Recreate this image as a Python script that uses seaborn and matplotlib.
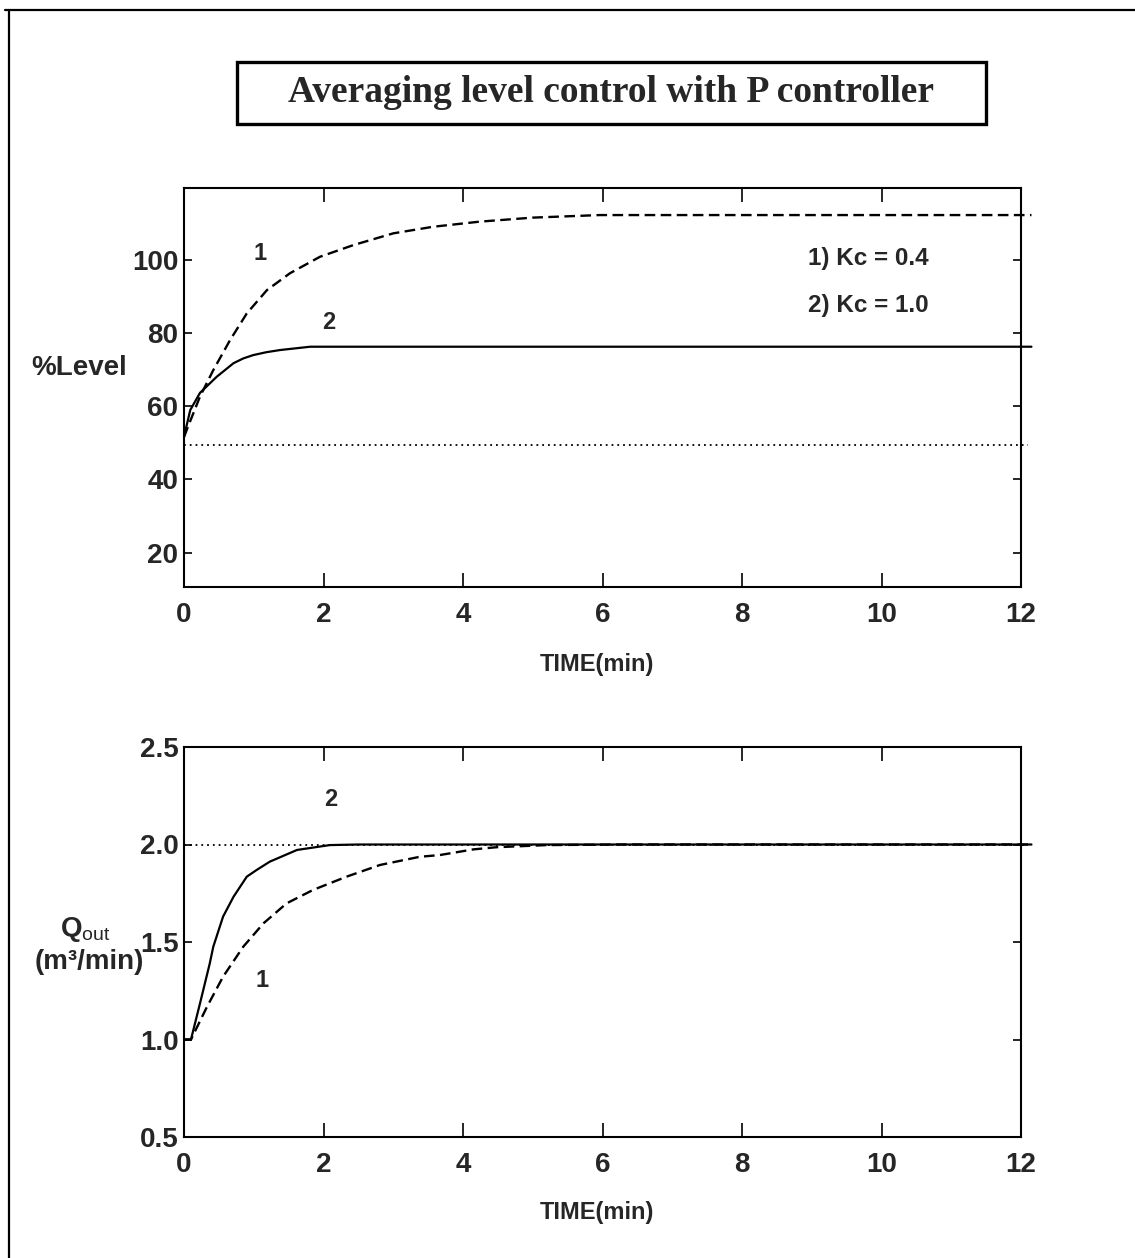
import matplotlib
matplotlib.use("Agg")
import matplotlib.pyplot as plt
import pandas as pd
import seaborn as sns
from matplotlib.lines import Line2D
from matplotlib.patches import Rectangle

# --- data ------------------------------------------------------------------
# %Level response, Kc = 0.4 (dashed) and Kc = 1.0 (solid)
time_lvl_kc04 = [0, 0.04, 0.23, 0.42, 0.66, 0.90, 1.19, 1.52, 1.95, 2.43, 3.0,
                 3.57, 4.24, 5.0, 5.96, 12.15]
level_kc04 = [51.6, 53.6, 62.7, 69.9, 78.1, 85.4, 91.8, 96.4, 100.9, 104.1,
              107.3, 109.1, 110.5, 111.6, 112.3, 112.3]
time_lvl_kc10 = [0, 0.09, 0.23, 0.47, 0.71, 0.85, 0.99, 1.18, 1.38, 1.81, 12.15]
level_kc10 = [51.7, 59.0, 63.7, 68.1, 71.8, 73.1, 74.0, 74.8, 75.4, 76.3, 76.3]

# outlet flow response
time_q_kc04 = [0, 0.1, 0.33, 0.56, 0.85, 1.14, 1.47, 1.85, 2.33, 2.81, 3.38,
               3.67, 4.15, 4.48, 5.2, 6.3, 12.15]
q_kc04 = [1.0, 1.0, 1.168, 1.322, 1.476, 1.596, 1.698, 1.767, 1.835, 1.895,
          1.937, 1.946, 1.975, 1.986, 1.997, 2.0, 2.0]
time_q_kc10 = [0, 0.1, 0.23, 0.37, 0.42, 0.56, 0.71, 0.90, 1.04, 1.23, 1.62,
               2.09, 2.5, 12.15]
q_kc10 = [1.0, 1.0, 1.186, 1.391, 1.476, 1.630, 1.732, 1.835, 1.869, 1.912,
          1.972, 1.997, 2.0, 2.0]

# reference (setpoint) lines
sp_time = [0, 12.1]
level_sp = [49.5, 49.5]
q_sp = [2.0, 2.0]

x_ticks = [0, 2, 4, 6, 8, 10, 12]
level_ticks = [20, 40, 60, 80, 100]
q_ticks = [0.5, 1.0, 1.5, 2.0, 2.5]

sns.set_style("white")
plt.rcParams["font.family"] = ["Liberation Sans", "DejaVu Sans"]
plt.rcParams["font.weight"] = "bold"
plt.rcParams["axes.labelweight"] = "bold"
plt.rcParams["mathtext.fontset"] = "custom"
plt.rcParams["mathtext.rm"] = "Liberation Sans:normal"
plt.rcParams["mathtext.bf"] = "Liberation Sans:bold"
plt.rcParams["axes.edgecolor"] = "black"
plt.rcParams["axes.linewidth"] = 1.5

fig = plt.figure(figsize=(11.35, 12.58), dpi=100)
W, H = 1135, 1258


def px_rect(x0, y0, x1, y1):
    return [x0 / W, 1 - y1 / H, (x1 - x0) / W, (y1 - y0) / H]


ax1 = fig.add_axes(px_rect(184, 188, 1021, 587))
ax2 = fig.add_axes(px_rect(184, 747, 1021, 1137))

dash = (4.5, 2.3)
dot = (1, 2.2)


def draw(ax, t, v, style, lw=1.6):
    df = pd.DataFrame({"t": t, "v": v})
    sns.lineplot(data=df, x="t", y="v", ax=ax, color="black",
                 linewidth=lw, clip_on=False, estimator=None, sort=False)
    ln = ax.get_lines()[-1]
    if style == "dash":
        ln.set_dashes(dash)
    elif style == "dot":
        ln.set_dashes(dot)


# --- top panel: level ---
draw(ax1, sp_time, level_sp, "dot", lw=1.3)
draw(ax1, time_lvl_kc04, level_kc04, "dash", lw=1.7)
draw(ax1, time_lvl_kc10, level_kc10, "solid", lw=1.6)
ax1.set_xlim(0, 12)
ax1.set_ylim(10.6, 119.7)
ax1.set_yticks(level_ticks)
ax1.text(1.09, 101.9, "1", fontsize=17, ha="center", va="center")
ax1.text(2.08, 82.8, "2", fontsize=17, ha="center", va="center")
ax1.text(8.95, 100.5, "1) Kc = 0.4", fontsize=17.5, ha="left", va="center")
ax1.text(8.95, 87.7, "2) Kc = 1.0", fontsize=17.5, ha="left", va="center")
ax1.set_ylabel("%Level", rotation=0, fontsize=20, ha="center", va="center")
ax1.yaxis.set_label_coords(-0.125, 0.549)

# --- bottom panel: outlet flow ---
draw(ax2, sp_time, q_sp, "dot", lw=1.3)
draw(ax2, time_q_kc04, q_kc04, "dash", lw=1.7)
draw(ax2, time_q_kc10, q_kc10, "solid", lw=1.6)
ax2.set_xlim(0, 12)
ax2.set_ylim(0.5, 2.5)
ax2.set_yticks(q_ticks)
ax2.set_yticklabels([f"{v:.1f}" for v in q_ticks])
ax2.text(2.11, 2.23, "2", fontsize=17, ha="center", va="center")
ax2.text(1.12, 1.305, "1", fontsize=17, ha="center", va="center")
ax2.set_ylabel("")
ax2.text(-0.118, 0.531, r"Q$_{\mathrm{out}}$", transform=ax2.transAxes,
         fontsize=20, ha="center", va="center")
ax2.text(-0.113, 0.449, "(m³/min)", transform=ax2.transAxes,
         fontsize=20, ha="center", va="center")

for ax in (ax1, ax2):
    ax.set_xticks(x_ticks)
    ax.set_xlabel("TIME(min)", fontsize=17, fontweight="bold", va="center")
    ax.xaxis.set_label_coords(0.493, -0.194)
    ax.tick_params(axis="x", direction="in", length=10, width=1.4,
                   top=True, bottom=True, labelsize=20, pad=11)
    ax.tick_params(axis="y", direction="in", length=6, width=1.4,
                   left=True, right=True, labelsize=20, pad=4)
    for s in ax.spines.values():
        s.set_visible(True)
        s.set_linewidth(1.5)

# title box
fig.add_artist(Rectangle((237 / W, 1 - 124 / H), 749 / W, 62 / H,
                         transform=fig.transFigure, fill=False,
                         edgecolor="black", linewidth=2.4))
fig.text(611 / W, 1 - 93 / H, "Averaging level control with P controller",
         family=["Liberation Serif", "DejaVu Serif"], fontweight="bold",
         fontsize=27, ha="center", va="center")

# page frame (top and left edges of the scanned page)
fig.add_artist(Line2D([5 / W, 1], [1 - 10 / H, 1 - 10 / H],
                      transform=fig.transFigure, color="black", linewidth=1.6))
fig.add_artist(Line2D([9 / W, 9 / W], [0, 1 - 10 / H],
                      transform=fig.transFigure, color="black", linewidth=1.6))

fig.savefig("out.png", dpi=100, facecolor="white")
